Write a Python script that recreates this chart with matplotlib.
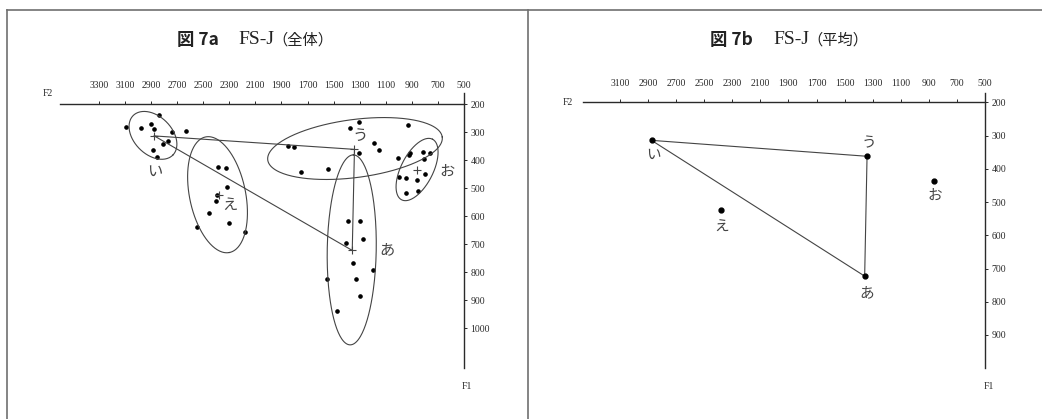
import matplotlib
matplotlib.use("Agg")
import matplotlib.pyplot as plt
from matplotlib.lines import Line2D
import numpy as np

# 母音ごとの個別トークン (F2, F1) [Hz]
vowels = ["あ", "い", "う", "え", "お"]

tok_a_f2 = [1387, 1298, 1277, 1407, 1349, 1328, 1200, 1548, 1298, 1472]
tok_a_f1 = [617, 617, 682, 695, 767, 825, 794, 826, 885, 939]

tok_i_f2 = [2839, 2903, 3094, 2977, 2737, 2632, 2768, 2811, 2883, 2857, 2875]
tok_i_f1 = [239, 271, 281, 287, 301, 296, 332, 344, 364, 388, 290]

tok_u_f2 = [1305, 1374, 927, 1847, 1804, 1190, 1150, 1305, 1008, 1541, 1750]
tok_u_f1 = [263, 285, 275, 350, 355, 340, 363, 376, 392, 432, 442]

tok_e_f2 = [2384, 2325, 2320, 2396, 2404, 2453, 2545, 2300, 2179]
tok_e_f1 = [424, 430, 498, 525, 545, 588, 638, 624, 658]

tok_o_f2 = [914, 817, 761, 807, 998, 947, 863, 799, 947, 850, 919]
tok_o_f1 = [374, 370, 376, 398, 462, 463, 471, 451, 517, 511, 382]

# 平均値
mean_f2 = {"あ": 1357, "い": 2875, "う": 1340, "え": 2382, "お": 862}
mean_f1 = {"あ": 723, "い": 314, "う": 362, "え": 525, "お": 435}

# 楕円 (中心 F2, F1, 長半径px, 短半径px, 角度)
ell_center = {"い": (2885, 312), "え": (2390, 524), "う": (1336, 359),
              "あ": (1361, 721), "お": (860, 434)}
ell_size = {"い": (28, 19, -45), "え": (59, 28, -78.3), "う": (88, 29, 7.5),
            "あ": (95, 24.5, 89), "お": (34, 16, 63)}

# ラベル位置
lab_left = {"い": (2870, 439), "え": (2294, 557), "う": (1298, 312),
            "お": (634, 439), "あ": (1088, 721)}
lab_right = {"い": (2860, 358), "う": (1330, 322), "あ": (1345, 774),
             "え": (2375, 578), "お": (855, 480)}

xticks_left = list(range(3300, 499, -200))
yticks_left = list(range(200, 1001, 100))
xticks_right = list(range(3100, 499, -200))
yticks_right = list(range(200, 901, 100))

ink = "#2a2a2a"
kana_font = ["Noto Sans CJK JP", "DejaVu Sans"]
num_font = ["Liberation Serif", "DejaVu Serif"]

W, H = 1042, 419
fig = plt.figure(figsize=(W / 100, H / 100), dpi=100)


def setup_axes(rect, xlim, ylim, xticks, yticks, xbound, ybound):
    ax = fig.add_axes([rect[0] / W, rect[1] / H, rect[2] / W, rect[3] / H])
    ax.set_xlim(*xlim)
    ax.set_ylim(*ylim)
    ax.patch.set_visible(False)
    for s in ["left", "bottom"]:
        ax.spines[s].set_visible(False)
    ax.spines["top"].set_position(("data", 200))
    ax.spines["top"].set_bounds(*xbound)
    ax.spines["right"].set_position(("data", 500))
    ax.spines["right"].set_bounds(*ybound)
    for s in ["top", "right"]:
        ax.spines[s].set_color(ink)
        ax.spines[s].set_linewidth(1.0)
    ax.xaxis.tick_top()
    ax.yaxis.tick_right()
    ax.set_xticks(xticks)
    ax.set_yticks(yticks)
    ax.set_xticklabels([str(v) for v in xticks], fontfamily=num_font, fontsize=7, color=ink)
    ax.set_yticklabels([str(v) for v in yticks], fontfamily=num_font, fontsize=7, color=ink)
    ax.tick_params(axis="x", direction="out", length=2.2, width=0.7, pad=8, colors=ink)
    ax.tick_params(axis="y", direction="out", length=2.2, width=0.7, pad=2.5, colors=ink)
    return ax


def draw_ellipse(ax, v):
    cx, cy = ax.transData.transform(ell_center[v])
    a, b, ang = ell_size[v]
    t = np.linspace(0, 2 * np.pi, 240)
    th = np.radians(ang)
    x = cx + a * np.cos(t) * np.cos(th) - b * np.sin(t) * np.sin(th)
    y = cy + a * np.cos(t) * np.sin(th) + b * np.sin(t) * np.cos(th)
    pts = ax.transData.inverted().transform(np.column_stack([x, y]))
    ax.plot(pts[:, 0], pts[:, 1], color="#444444", lw=0.8)


def draw_triangle(ax):
    order = ["い", "う", "あ", "い"]
    ax.plot([mean_f2[v] for v in order], [mean_f1[v] for v in order],
            color="#444444", lw=0.8)


# ---- 図7a 全体 ----
axL = setup_axes((53.2, 18.2, 436.9, 310.8), (3650, 300), (1260, 150),
                 xticks_left, yticks_left, (500, 3600), (162, 1143))
toks = [(tok_a_f2, tok_a_f1), (tok_i_f2, tok_i_f1), (tok_u_f2, tok_u_f1),
        (tok_e_f2, tok_e_f1), (tok_o_f2, tok_o_f1)]
for f2, f1 in toks:
    axL.plot(f2, f1, "o", ms=2.3, color="black", ls="none")
for v in vowels:
    draw_ellipse(axL, v)
draw_triangle(axL)
axL.plot([mean_f2[v] for v in vowels], [mean_f1[v] for v in vowels], "+",
         ms=6, mew=0.8, color="#444444", ls="none")
for v, (x, y) in lab_left.items():
    axL.text(x, y, v, ha="center", va="center", fontsize=11,
             fontfamily=kana_font, color="#444444")
axL.text(3694, 161, "F2", ha="center", va="center", fontsize=7, fontfamily=num_font, color=ink)
axL.text(475, 1210, "F1", ha="center", va="center", fontsize=7, fontfamily=num_font, color=ink)

# ---- 図7b 平均 ----
axR = setup_axes((577.8, 17.7, 442.3, 315.4), (3400, 250), (1100, 150),
                 xticks_right, yticks_right, (500, 3363), (172, 1000))
draw_triangle(axR)
axR.plot([mean_f2[v] for v in vowels], [mean_f1[v] for v in vowels], "o",
         ms=3.5, color="black", ls="none")
for v, (x, y) in lab_right.items():
    axR.text(x, y, v, ha="center", va="center", fontsize=10.5,
             fontfamily=kana_font, color="#444444")
axR.text(3470, 200, "F2", ha="center", va="center", fontsize=7, fontfamily=num_font, color=ink)
axR.text(472, 1056, "F1", ha="center", va="center", fontsize=7, fontfamily=num_font, color=ink)

# ---- タイトルと枠 ----
ty = 1 - 40 / H
for cx, tag, sub in [(251.5, "図 7a", "（全体）"), (786, "図 7b", "（平均）")]:
    fig.text((cx - 33) / W, ty, tag, ha="right", va="center", fontsize=12.5,
             fontweight="bold", fontfamily=kana_font, color="#222222")
    fig.text((cx - 13) / W, ty, "FS-J", ha="left", va="center", fontsize=14,
             fontfamily=num_font, color="#222222")
    fig.text((cx + 82) / W, ty, sub, ha="right", va="center", fontsize=11,
             fontfamily=kana_font, color="#222222")

frame = dict(transform=fig.transFigure, color="#707070", lw=1.2)
fig.add_artist(Line2D([7 / W, 1], [1 - 10 / H, 1 - 10 / H], **frame))
fig.add_artist(Line2D([7 / W, 7 / W], [0, 1 - 10 / H], **frame))
fig.add_artist(Line2D([528 / W, 528 / W], [0, 1 - 10 / H], **frame))

fig.savefig("out.png", dpi=100, facecolor="white")
